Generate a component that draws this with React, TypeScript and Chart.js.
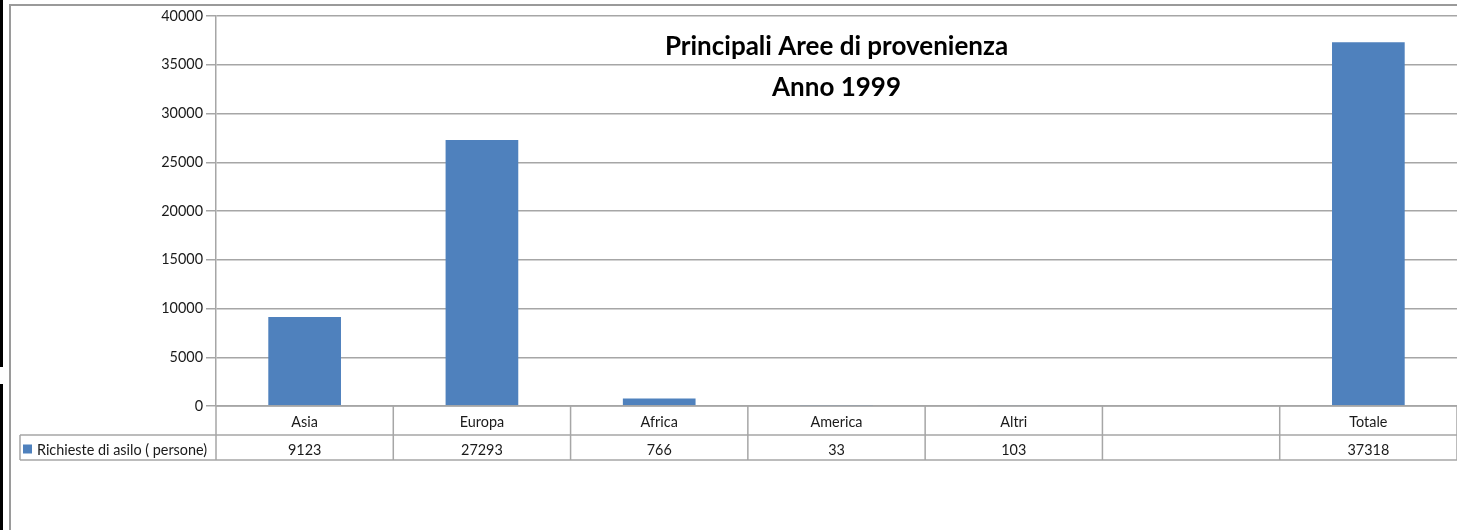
import React, { useEffect, useRef } from "react";
import { Chart, registerables } from "chart.js";

Chart.register(...registerables);

const categories: string[] = ["Asia", "Europa", "Africa", "America", "Altri", "", "Totale"];
const richiesteAsilo: (number | null)[] = [9123, 27293, 766, 33, 103, null, 37318];
const seriesLabel = "Richieste di asilo ( persone)";
const titleLines: string[] = ["Principali Aree di provenienza", "Anno 1999"];
const yTickMin = 0;
const yTickMax = 40000;
const yTickStep = 5000;

const BAR_COLOR = "#4F81BD";
const LINE_COLOR = "#a6a6a6";
const TEXT_COLOR = "#1a1a1a";
const FONT = "Lato";
const TEXT_SIZE = 14.4;
const TITLE_SIZE = 26;

const decorPlugin = {
  id: "decor",
  beforeDraw(chart: any) {
    const ctx = chart.ctx;
    ctx.save();
    ctx.fillStyle = "#ffffff";
    ctx.fillRect(0, 0, chart.width, chart.height);
    // window edge strip
    ctx.fillStyle = "#000000";
    ctx.fillRect(0, 0, 3, 367);
    ctx.fillRect(0, 384, 3, chart.height - 384);
    // outer chart border
    ctx.strokeStyle = "#9a9a9a";
    ctx.lineWidth = 2;
    ctx.beginPath();
    ctx.moveTo(10, chart.height);
    ctx.lineTo(10, 5);
    ctx.lineTo(chart.width, 5);
    ctx.stroke();
    ctx.restore();
  },
  afterDraw(chart: any) {
    const ctx = chart.ctx;
    const area = chart.chartArea;
    const xs = chart.scales.x;
    ctx.save();
    // title
    ctx.fillStyle = "#000000";
    ctx.font = `bold ${TITLE_SIZE}px ${FONT}`;
    ctx.textAlign = "center";
    ctx.textBaseline = "middle";
    const cx = (area.left + area.right) / 2;
    ctx.fillText(titleLines[0], cx, area.top + 31);
    ctx.fillText(titleLines[1], cx, area.top + 72);

    // data table
    const n = categories.length;
    const step = n > 1 ? xs.getPixelForValue(1) - xs.getPixelForValue(0) : area.right - area.left;
    const half = step / 2;
    const r0 = area.bottom;
    const r1 = r0 + 29;
    const r2 = r1 + 25;
    const legendLeft = 20;

    ctx.strokeStyle = LINE_COLOR;
    ctx.lineWidth = 1.5;
    ctx.beginPath();
    ctx.moveTo(area.left, r0);
    ctx.lineTo(area.right, r0);
    ctx.moveTo(legendLeft, r1);
    ctx.lineTo(area.right, r1);
    ctx.moveTo(legendLeft, r2);
    ctx.lineTo(area.right, r2);
    ctx.moveTo(legendLeft, r1);
    ctx.lineTo(legendLeft, r2);
    for (let i = 0; i <= n; i++) {
      const x = i < n ? xs.getPixelForValue(i) - half : xs.getPixelForValue(n - 1) + half;
      ctx.moveTo(x, r0);
      ctx.lineTo(x, r2);
    }
    ctx.stroke();

    ctx.fillStyle = TEXT_COLOR;
    ctx.font = `${TEXT_SIZE}px ${FONT}`;
    ctx.textAlign = "center";
    ctx.textBaseline = "middle";
    for (let i = 0; i < n; i++) {
      const x = xs.getPixelForValue(i);
      ctx.fillText(categories[i], x, (r0 + r1) / 2 + 2);
      const v = richiesteAsilo[i];
      if (v !== null && v !== undefined) ctx.fillText(String(v), x, (r1 + r2) / 2 + 2.5);
    }
    // legend key
    ctx.fillStyle = BAR_COLOR;
    ctx.fillRect(legendLeft + 3, (r1 + r2) / 2 - 3, 9, 9);
    ctx.fillStyle = TEXT_COLOR;
    ctx.textAlign = "left";
    ctx.fillText(seriesLabel, legendLeft + 17, (r1 + r2) / 2 + 2.5);
    ctx.restore();
  },
};

export default function App() {
  const ref = useRef<HTMLCanvasElement | null>(null);
  useEffect(() => {
    let chart: Chart | null = null;
    let cancelled = false;
    const make = () => {
      if (cancelled || !ref.current) return;
      chart = new Chart(ref.current, {
        type: "bar",
        data: {
          labels: categories,
          datasets: [
            {
              label: seriesLabel,
              data: richiesteAsilo,
              backgroundColor: BAR_COLOR,
              borderWidth: 0,
              barPercentage: 0.41,
              categoryPercentage: 1,
            },
          ],
        },
        options: {
          responsive: false,
          animation: false,
          layout: { padding: { top: 16, bottom: 124, left: 0, right: 0 } },
          plugins: {
            legend: { display: false },
            title: { display: false },
            tooltip: { enabled: false },
          },
          scales: {
            x: { display: false },
            y: {
              min: yTickMin,
              max: yTickMax,
              ticks: {
                stepSize: yTickStep,
                color: TEXT_COLOR,
                font: { family: FONT, size: TEXT_SIZE },
                padding: 3,
                callback: (v: any) => String(v),
              },
              grid: { color: LINE_COLOR, lineWidth: 1.5, tickLength: 10 },
              border: { display: true, color: LINE_COLOR, width: 1.5 },
              afterFit(scale: any) {
                scale.width = 216;
              },
            },
          },
        },
        plugins: [decorPlugin],
      } as any);
    };
    const fonts: any = (document as any).fonts;
    if (fonts && fonts.load) {
      Promise.all([fonts.load(`${TEXT_SIZE}px ${FONT}`), fonts.load(`bold ${TITLE_SIZE}px ${FONT}`)])
        .catch(() => null)
        .then(make);
    } else make();
    return () => {
      cancelled = true;
      if (chart) chart.destroy();
    };
  }, []);
  return (
    <div style={{ position: "fixed", left: 0, top: 0, width: 1457, height: 530 }}>
      <canvas ref={ref} width={1457} height={530} style={{ display: "block" }} />
    </div>
  );
}
